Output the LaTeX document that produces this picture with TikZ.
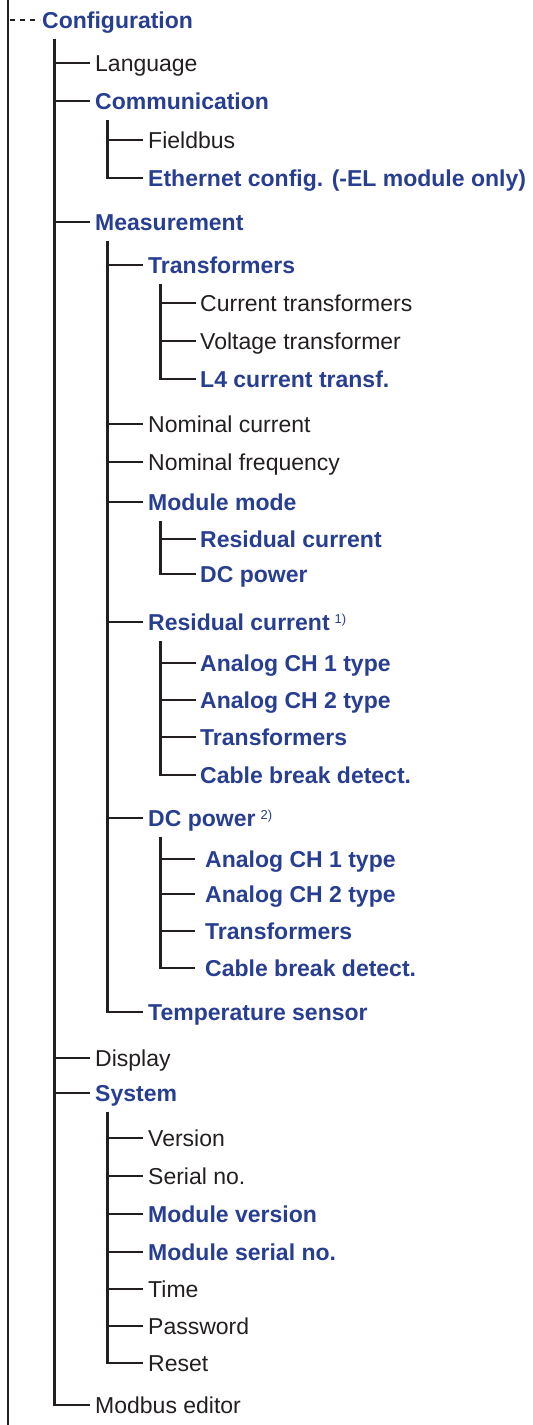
\documentclass[tikz,border=0pt]{standalone}
\usepackage{fontspec}
\setmainfont{Liberation Sans}
\usepackage{xcolor}
\usepackage{tikz}
\usetikzlibrary{positioning,calc}
\definecolor{menublue}{RGB}{40,62,145}
\definecolor{menutext}{RGB}{35,31,32}
\newcommand{\fnote}[1]{\hspace{5pt}{\mdseries\fontsize{13}{13}\selectfont\raisebox{6.5pt}{#1}}}

\begin{document}
\begin{tikzpicture}[x=1pt, y=-1pt,
  entry/.style={anchor=west, inner sep=0pt, text height=16.5pt, text depth=0pt,
                font=\fontsize{23}{27}\selectfont, text=menutext},
  sub/.style={entry, font=\fontsize{23}{27}\selectfont\bfseries, text=menublue},
  branch/.style={line width=2.4pt, draw=menutext}]
  \useasboundingbox (0,0) rectangle (533,1425);

  % Root
  \coordinate (top) at (8,0);
  \coordinate (bottom) at (8,1425);
  \node[sub] (cfg) at (42,20) {Configuration};

  % Level 1
  \node[entry] (lang) at (95,63) {Language};
  \node[sub]   (comm) at (95,101) {Communication};
  \node[sub]   (meas) at (95,222) {Measurement};
  \node[entry] (disp) at (95,1058) {Display};
  \node[sub]   (sys)  at (95,1093) {System};
  \node[entry] (mbus) at (95,1405) {Modbus editor};

  % Level 2
  \node[entry] (fbus) at (148,140) {Fieldbus};
  \node[sub]   (eth)  at (148,178) {Ethernet config. (-EL module only)};
  \node[sub]   (trf)  at (148,265) {Transformers};
  \node[entry] (ncur) at (148,424) {Nominal current};
  \node[entry] (nfrq) at (148,462) {Nominal frequency};
  \node[sub]   (mode) at (148,502) {Module mode};
  \node[sub]   (rc)   at (148,622) {Residual current\fnote{1)}};
  \node[sub]   (dc)   at (148,818) {DC power\fnote{2)}};
  \node[sub]   (temp) at (148,1012) {Temperature sensor};
  \node[entry] (ver)  at (148,1138) {Version};
  \node[entry] (ser)  at (148,1176) {Serial no.};
  \node[sub]   (mver) at (148,1214) {Module version};
  \node[sub]   (mser) at (148,1252) {Module serial no.};
  \node[entry] (time) at (148,1289) {Time};
  \node[entry] (pwd)  at (148,1326) {Password};
  \node[entry] (rst)  at (148,1363) {Reset};

  % Level 3
  \node[entry] (ctr)  at (200,303) {Current transformers};
  \node[entry] (vtr)  at (200,341) {Voltage transformer};
  \node[sub]   (l4)   at (200,379) {L4 current transf.};
  \node[sub]   (mrc)  at (200,539) {Residual current};
  \node[sub]   (mdc)  at (200,574) {DC power};
  \node[sub]   (rca1) at (200,663) {Analog CH 1 type};
  \node[sub]   (rca2) at (200,700) {Analog CH 2 type};
  \node[sub]   (rct)  at (200,737) {Transformers};
  \node[sub]   (rcc)  at (200,775) {Cable break detect.};
  \node[sub]   (dca1) at (205,859) {Analog CH 1 type};
  \node[sub]   (dca2) at (205,894) {Analog CH 2 type};
  \node[sub]   (dct)  at (205,931) {Transformers};
  \node[sub]   (dcc)  at (205,968) {Cable break detect.};

  % Trunk
  \draw[branch] (top) -- (bottom);
  \draw[branch, dash pattern=on 5pt off 5pt, dash phase=8pt] (top |- cfg.west) -- ([xshift=-2]cfg.west);

  % Branches
  \foreach \p/\c/\g in {cfg/lang/5, cfg/comm/5, cfg/meas/5, cfg/disp/5, cfg/sys/5, cfg/mbus/5,
                        comm/fbus/5, comm/eth/5,
                        meas/trf/5, meas/ncur/5, meas/nfrq/5, meas/mode/5, meas/rc/5, meas/dc/5, meas/temp/5,
                        trf/ctr/4, trf/vtr/4, trf/l4/4,
                        mode/mrc/4, mode/mdc/4,
                        rc/rca1/4, rc/rca2/4, rc/rct/4, rc/rcc/4,
                        dc/dca1/10, dc/dca2/10, dc/dct/10, dc/dcc/10,
                        sys/ver/5, sys/ser/5, sys/mver/5, sys/mser/5, sys/time/5, sys/pwd/5, sys/rst/5} {
    \draw[branch] ([xshift=12.5,yshift=-10.5]\p.south west) |- ([xshift=-\g]\c.west);
  }
\end{tikzpicture}
\end{document}
